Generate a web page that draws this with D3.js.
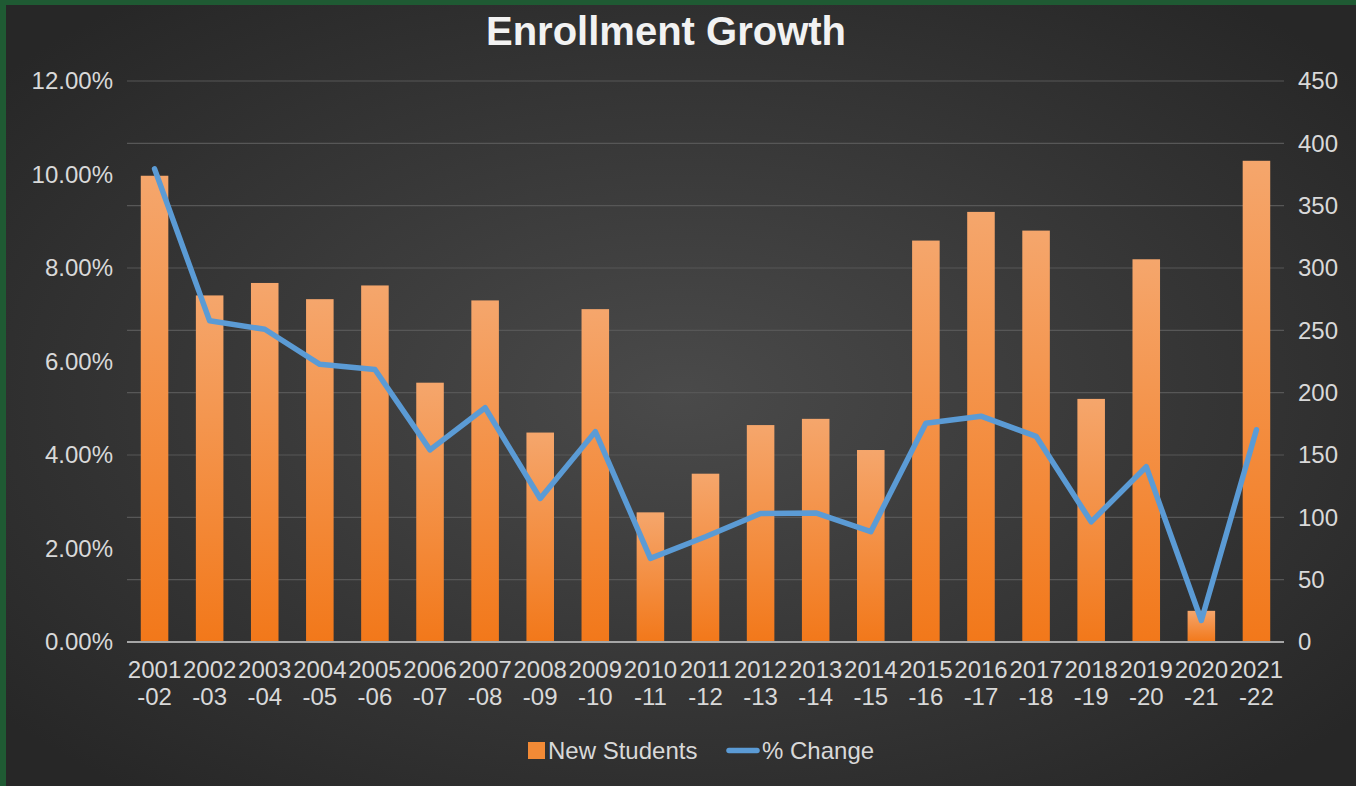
<!DOCTYPE html>
<html>
<head>
<meta charset="utf-8">
<script src="https://cdn.jsdelivr.net/npm/d3@7"></script>
<style>
  html, body { margin: 0; padding: 0; background: #1f5a33; }
  svg { display: block; font-family: "Liberation Sans", Arial, sans-serif; }
</style>
</head>
<body>
<svg width="1356" height="786"></svg>
<script>
// data
const years = ["2001-02","2002-03","2003-04","2004-05","2005-06","2006-07","2007-08","2008-09","2009-10","2010-11",
               "2011-12","2012-13","2013-14","2014-15","2015-16","2016-17","2017-18","2018-19","2019-20","2020-21","2021-22"];
const newStudents = [374, 278, 288, 275, 286, 208, 274, 168, 267, 104, 135, 174, 179, 154, 322, 345, 330, 195, 307, 25, 386];
const pctChange = [10.12, 6.87, 6.69, 5.94, 5.83, 4.11, 5.01, 3.07, 4.50, 1.79, 2.25, 2.75, 2.76, 2.36, 4.68, 4.83, 4.40, 2.57, 3.75, 0.46, 4.54];
const leftTicks = [0, 2, 4, 6, 8, 10, 12];
const rightTicks = [0, 50, 100, 150, 200, 250, 300, 350, 400, 450];

const svg = d3.select("svg"),
      W = +svg.attr("width"),
      H = +svg.attr("height"),
      margin = {top: 81, right: 72, bottom: 144, left: 127},
      width = W - margin.left - margin.right,
      height = H - margin.top - margin.bottom;

const labelFont = "24px";
const labelColor = "#d9d9d9";

const defs = svg.append("defs");
const bg = defs.append("radialGradient").attr("id", "bg").attr("cx", "50%").attr("cy", "50%").attr("r", "65%");
bg.append("stop").attr("offset", "0%").attr("stop-color", "#4a4a4a");
bg.append("stop").attr("offset", "100%").attr("stop-color", "#272727");

const barGrad = defs.append("linearGradient").attr("id", "barGrad").attr("x1", 0).attr("y1", 0).attr("x2", 0).attr("y2", 1);
barGrad.append("stop").attr("offset", "0%").attr("stop-color", "#f5a66c");
barGrad.append("stop").attr("offset", "100%").attr("stop-color", "#f2781a");

// chart area inside the green frame
svg.append("rect").attr("x", 6).attr("y", 5).attr("width", W - 6).attr("height", H - 5).attr("fill", "url(#bg)");

svg.append("text")
  .attr("x", 666).attr("y", 45)
  .attr("text-anchor", "middle")
  .attr("fill", "#f2f2f2")
  .style("font-size", "40px")
  .style("font-weight", "bold")
  .text("Enrollment Growth");

const g = svg.append("g").attr("transform", `translate(${margin.left},${margin.top})`);

const x = d3.scaleBand().domain(years).range([0, width]).paddingInner(0.5).paddingOuter(0.25);
const yL = d3.scaleLinear().domain([0, 12]).range([height, 0]);
const yR = d3.scaleLinear().domain([0, 450]).range([height, 0]);

// gridlines follow right axis
g.append("g")
  .selectAll("line")
  .data(rightTicks.slice(1))
  .join("line")
  .attr("x1", 0).attr("x2", width)
  .attr("y1", d => yR(d)).attr("y2", d => yR(d))
  .attr("stroke", "#575757")
  .attr("stroke-width", 1.2);

g.append("g")
  .selectAll("rect")
  .data(years)
  .join("rect")
  .attr("x", d => x(d))
  .attr("y", (d, i) => yR(newStudents[i]))
  .attr("width", x.bandwidth())
  .attr("height", (d, i) => height - yR(newStudents[i]))
  .attr("fill", "url(#barGrad)");

// baseline
g.append("line")
  .attr("x1", 0).attr("x2", width)
  .attr("y1", height).attr("y2", height)
  .attr("stroke", "#a6a6a6")
  .attr("stroke-width", 2);

const line = d3.line()
  .x((d, i) => x(years[i]) + x.bandwidth() / 2)
  .y(d => yL(d));

g.append("path")
  .datum(pctChange)
  .attr("d", line)
  .attr("fill", "none")
  .attr("stroke", "#5b9bd5")
  .attr("stroke-width", 5.5)
  .attr("stroke-linejoin", "round")
  .attr("stroke-linecap", "round");

// left axis (percent)
const axL = g.append("g")
  .call(d3.axisLeft(yL).tickValues(leftTicks).tickSize(0).tickPadding(14).tickFormat(d => d.toFixed(2) + "%"));
axL.select(".domain").remove();

// right axis (count)
const axR = g.append("g")
  .attr("transform", `translate(${width},0)`)
  .call(d3.axisRight(yR).tickValues(rightTicks).tickSize(0).tickPadding(14));
axR.select(".domain").remove();

[axL, axR].forEach(a => a.selectAll("text")
  .attr("fill", labelColor)
  .style("font-size", labelFont)
  .style("font-family", "'Liberation Sans', Arial, sans-serif"));

// two-line category labels
const axB = g.append("g")
  .attr("transform", `translate(0,${height})`)
  .call(d3.axisBottom(x).tickSize(0).tickFormat(""));
axB.select(".domain").remove();
axB.selectAll(".tick text").remove();
axB.selectAll(".tick").append("text")
  .attr("text-anchor", "middle")
  .attr("fill", labelColor)
  .style("font-size", labelFont)
  .style("font-family", "'Liberation Sans', Arial, sans-serif")
  .each(function(d) {
    const [a, b] = d.split("-");
    const t = d3.select(this);
    t.append("tspan").attr("x", 0).attr("y", 36).text(a);
    t.append("tspan").attr("x", 0).attr("y", 63).text("-" + b);
  });

// legend
const lg = svg.append("g").attr("transform", "translate(528,742)");
lg.append("rect").attr("width", 17).attr("height", 17).attr("fill", "#f28a36");
lg.append("text").attr("x", 20).attr("y", 17).attr("fill", labelColor).style("font-size", labelFont).text("New Students");
lg.append("line").attr("x1", 201).attr("x2", 229).attr("y1", 8.5).attr("y2", 8.5)
  .attr("stroke", "#5b9bd5").attr("stroke-width", 5.5).attr("stroke-linecap", "round");
lg.append("text").attr("x", 234).attr("y", 17).attr("fill", labelColor).style("font-size", labelFont).text("% Change");
</script>
</body>
</html>
